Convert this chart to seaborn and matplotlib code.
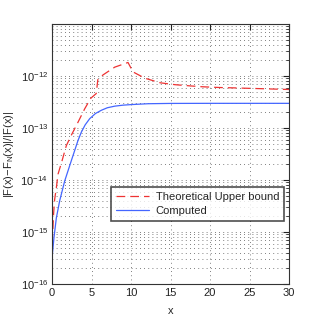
import numpy as np
import pandas as pd
import matplotlib
matplotlib.use("Agg")
import matplotlib.pyplot as plt
import seaborn as sns

# Theoretical upper bound (red dashed)
bound_x = [0.0, 0.05, 0.21, 0.34, 0.55, 0.76, 1.27, 1.81, 2.44, 3.29, 4.14, 4.9, 5.6, 5.8,
           6.46, 7.94, 9.62, 10.25, 11.73, 13.7, 15.6, 17.5, 19.1, 21.3, 23.2, 24.8, 26.6, 28.2, 30.0]
bound_y = [1e-16, 7.2e-16, 2.34e-15, 4.27e-15, 7.08e-15, 1.29e-14, 2.34e-14, 4.57e-14, 7.24e-14,
           1.29e-13, 2.34e-13, 3.72e-13, 4.6e-13, 8.5e-13, 1.05e-12, 1.48e-12, 1.82e-12, 1.2e-12,
           9.1e-13, 7.4e-13, 6.8e-13, 6.45e-13, 6.2e-13, 6.0e-13, 5.9e-13, 5.8e-13, 5.7e-13,
           5.6e-13, 5.5e-13]

# Computed (blue solid)
comp_x = [0.0, 0.04, 0.25, 0.55, 0.97, 1.6, 2.44, 3.29, 3.71, 4.2, 4.77, 5.5, 6.24, 7.0, 7.94,
          9.0, 10.04, 12.15, 15.0, 20.0, 25.0, 30.0]
comp_y = [1e-16, 3.6e-16, 7.8e-16, 1.86e-15, 3.98e-15, 9.5e-15, 2.34e-14, 5.75e-14, 8.3e-14,
          1.15e-13, 1.51e-13, 1.9e-13, 2.19e-13, 2.45e-13, 2.63e-13, 2.75e-13, 2.82e-13, 2.93e-13,
          2.97e-13, 2.98e-13, 2.98e-13, 2.98e-13]

labels = ["Theoretical Upper bound", "Computed"]

sns.set_style("white")
plt.rcParams['font.family'] = ['Liberation Sans', 'DejaVu Sans']
plt.rcParams['mathtext.fontset'] = 'custom'
plt.rcParams['mathtext.rm'] = 'Liberation Sans'
plt.rcParams['mathtext.it'] = 'Liberation Sans'

fig = plt.figure(figsize=(3.19, 3.20), dpi=100)
ax = fig.add_axes([52/319, 36/320, (289-52)/319, (284-24)/320])

df_b = pd.DataFrame({"x": bound_x, "y": bound_y})
df_c = pd.DataFrame({"x": comp_x, "y": comp_y})
sns.lineplot(data=df_b, x="x", y="y", ax=ax, color="#ee3333", lw=0.9,
             linestyle=(0, (7, 4)), label=labels[0], estimator=None, sort=False)
sns.lineplot(data=df_c, x="x", y="y", ax=ax, color="#4466ff", lw=0.9,
             label=labels[1], estimator=None, sort=False)

ax.set_yscale("log")
ax.set_xlim(0, 30)
ax.set_ylim(1e-16, 1e-11)
ax.set_xticks([0, 5, 10, 15, 20, 25, 30])
ax.set_yticks([1e-16, 1e-15, 1e-14, 1e-13, 1e-12])
ax.yaxis.set_minor_locator(matplotlib.ticker.LogLocator(base=10, subs=np.arange(2, 10)))
ax.yaxis.set_minor_formatter(matplotlib.ticker.NullFormatter())

ax.grid(True, which="major", axis="both", linestyle=(0, (1, 4)), color="#555555", lw=0.6)
ax.grid(True, which="minor", axis="y", linestyle=(0, (1, 4)), color="#555555", lw=0.6)

ax.tick_params(which="both", direction="in", top=True, right=True, labelsize=8, colors="#222222")
ax.tick_params(which="major", length=4, pad=3)
ax.tick_params(which="minor", length=2)
for s in ax.spines.values():
    s.set_color("#333333")
    s.set_linewidth(0.8)

ax.set_xlabel("x", fontsize=8)
ax.xaxis.set_label_coords(0.5, -22/260)
ax.set_ylabel(r"|F(x)$-$F$_N$(x)|/|F(x)|", fontsize=8)
ax.yaxis.set_label_coords(-0.15, 0.5)

leg = ax.legend(loc="upper left", bbox_to_anchor=((110.7-52)/237, (284-186.7)/260),
                fontsize=8, frameon=True, fancybox=False, borderpad=0.45,
                handlelength=3.0, handletextpad=0.6, labelspacing=0.35, borderaxespad=0)
leg.get_frame().set_edgecolor("#222222")
leg.get_frame().set_linewidth(1.2)

fig.savefig("out.png", dpi=100)
